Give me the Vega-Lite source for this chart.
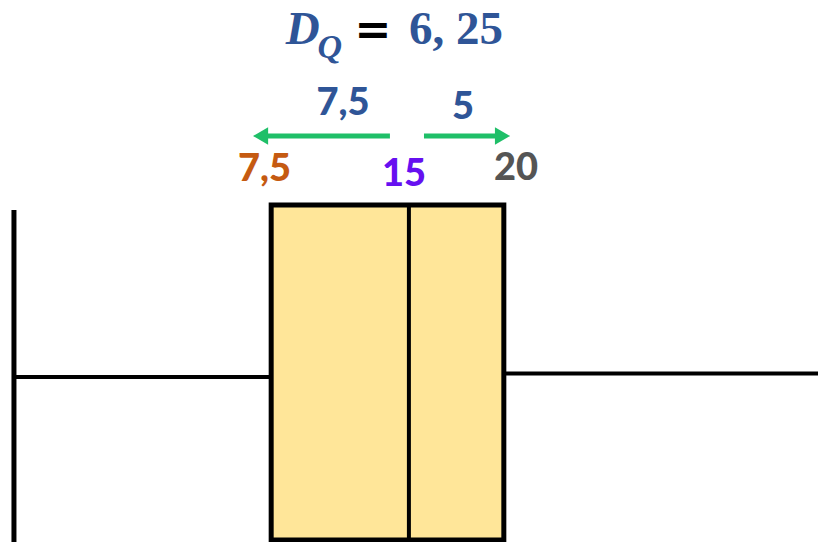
{
  "$schema": "https://vega.github.io/schema/vega-lite/v6.json",
  "width": 818,
  "height": 542,
  "autosize": {"type": "fit", "contains": "padding"},
  "padding": 0,
  "background": "white",
  "config": {"view": {"stroke": null}},
  "datasets": {
    "box": [{"q1": 7.5, "q3": 20, "lo": -1, "hi": 1}],
    "segs": [
      {"part": "whiskerL", "x": -6.32, "x2": 7.5, "y": -0.027, "y2": -0.027},
      {"part": "whiskerR", "x": 20, "x2": 40, "y": -0.006, "y2": -0.006},
      {"part": "cap", "x": -6.32, "x2": -6.32, "y": 0.97, "y2": -1.1},
      {"part": "median", "x": 14.9, "x2": 14.9, "y": -1, "y2": 1},
      {"part": "arrow", "x": 13.88, "x2": 7.3, "y": 1.412, "y2": 1.412},
      {"part": "arrow", "x": 15.71, "x2": 19.6, "y": 1.412, "y2": 1.412}
    ],
    "heads": [
      {"dir": "left", "x": 6.93, "y": 1.412},
      {"dir": "right", "x": 19.93, "y": 1.412}
    ],
    "labels": [
      {"role": "q1", "label": "7,5", "x": 7.14, "y": 1.143},
      {"role": "median", "label": "15", "x": 14.64, "y": 1.113},
      {"role": "q3", "label": "20", "x": 20.65, "y": 1.149},
      {"role": "diff", "label": "7,5", "x": 11.36, "y": 1.537},
      {"role": "diff", "label": "5", "x": 17.81, "y": 1.513}
    ],
    "title": [
      {"part": "D", "label": "D", "x": 9.2, "y": 1.961},
      {"part": "Q", "label": "Q", "x": 10.65, "y": 1.88},
      {"part": "eq", "label": "=", "x": 12.97, "y": 2.04},
      {"part": "val", "label": "6, 25", "x": 17.43, "y": 1.961}
    ]
  },
  "layer": [
    {
      "data": {"name": "box"},
      "mark": {"type": "rect", "fill": "#FFE699", "stroke": "#000000", "strokeWidth": 5, "clip": true},
      "encoding": {
        "x": {"field": "q1", "type": "quantitative", "scale": {"domain": [-7.07, 36.88], "nice": false, "zero": false}, "axis": null},
        "x2": {"field": "q3"},
        "y": {"field": "lo", "type": "quantitative", "scale": {"domain": [-1.012, 2.224], "nice": false, "zero": false}, "axis": null},
        "y2": {"field": "hi"}
      }
    },
    {
      "data": {"name": "segs"},
      "transform": [{"filter": "datum.part === 'whiskerL' || datum.part === 'whiskerR'"}],
      "mark": {"type": "rule", "color": "#000000", "strokeWidth": 4, "clip": true},
      "encoding": {
        "x": {"field": "x", "type": "quantitative"},
        "x2": {"field": "x2"},
        "y": {"field": "y", "type": "quantitative"},
        "y2": {"field": "y2"}
      }
    },
    {
      "data": {"name": "segs"},
      "transform": [{"filter": "datum.part === 'cap'"}],
      "mark": {"type": "rule", "color": "#000000", "strokeWidth": 5, "clip": true},
      "encoding": {
        "x": {"field": "x", "type": "quantitative"},
        "x2": {"field": "x2"},
        "y": {"field": "y", "type": "quantitative"},
        "y2": {"field": "y2"}
      }
    },
    {
      "data": {"name": "segs"},
      "transform": [{"filter": "datum.part === 'median'"}],
      "mark": {"type": "rule", "color": "#000000", "strokeWidth": 4, "clip": true},
      "encoding": {
        "x": {"field": "x", "type": "quantitative"},
        "x2": {"field": "x2"},
        "y": {"field": "y", "type": "quantitative"},
        "y2": {"field": "y2"}
      }
    },
    {
      "data": {"name": "segs"},
      "transform": [{"filter": "datum.part === 'arrow'"}],
      "mark": {"type": "rule", "color": "#1FBF68", "strokeWidth": 5},
      "encoding": {
        "x": {"field": "x", "type": "quantitative"},
        "x2": {"field": "x2"},
        "y": {"field": "y", "type": "quantitative"},
        "y2": {"field": "y2"}
      }
    },
    {
      "data": {"name": "heads"},
      "transform": [{"filter": "datum.dir === 'left'"}],
      "mark": {"type": "point", "filled": true, "color": "#1FBF68", "opacity": 1, "size": 230, "shape": "M-1,0L1,-1.15L1,1.15Z"},
      "encoding": {
        "x": {"field": "x", "type": "quantitative"},
        "y": {"field": "y", "type": "quantitative"}
      }
    },
    {
      "data": {"name": "heads"},
      "transform": [{"filter": "datum.dir === 'right'"}],
      "mark": {"type": "point", "filled": true, "color": "#1FBF68", "opacity": 1, "size": 230, "shape": "M1,0L-1,-1.15L-1,1.15Z"},
      "encoding": {
        "x": {"field": "x", "type": "quantitative"},
        "y": {"field": "y", "type": "quantitative"}
      }
    },
    {
      "data": {"name": "labels"},
      "mark": {"type": "text", "font": "Lato", "fontWeight": 900, "fontSize": 38, "align": "center", "baseline": "alphabetic"},
      "encoding": {
        "x": {"field": "x", "type": "quantitative"},
        "y": {"field": "y", "type": "quantitative"},
        "text": {"field": "label"},
        "color": {"field": "role", "type": "nominal", "legend": null,
          "scale": {"domain": ["q1", "median", "q3", "diff"], "range": ["#C55A11", "#6610F0", "#555555", "#2F5597"]}}
      }
    },
    {
      "data": {"name": "title"},
      "transform": [{"filter": "datum.part === 'D'"}],
      "mark": {"type": "text", "font": "Liberation Serif", "fontWeight": "bold", "fontStyle": "italic", "fontSize": 47, "color": "#2F5597", "align": "center", "baseline": "alphabetic"},
      "encoding": {
        "x": {"field": "x", "type": "quantitative"},
        "y": {"field": "y", "type": "quantitative"},
        "text": {"field": "label"}
      }
    },
    {
      "data": {"name": "title"},
      "transform": [{"filter": "datum.part === 'Q'"}],
      "mark": {"type": "text", "font": "Liberation Serif", "fontWeight": "bold", "fontStyle": "italic", "fontSize": 34, "color": "#2F5597", "align": "center", "baseline": "alphabetic"},
      "encoding": {
        "x": {"field": "x", "type": "quantitative"},
        "y": {"field": "y", "type": "quantitative"},
        "text": {"field": "label"}
      }
    },
    {
      "data": {"name": "title"},
      "transform": [{"filter": "datum.part === 'eq'"}],
      "mark": {"type": "text", "font": "DejaVu Sans", "fontWeight": "bold", "fontSize": 44, "color": "#000000", "align": "center", "baseline": "middle"},
      "encoding": {
        "x": {"field": "x", "type": "quantitative"},
        "y": {"field": "y", "type": "quantitative"},
        "text": {"field": "label"}
      }
    },
    {
      "data": {"name": "title"},
      "transform": [{"filter": "datum.part === 'val'"}],
      "mark": {"type": "text", "font": "Liberation Serif", "fontWeight": "bold", "fontSize": 47, "color": "#2F5597", "align": "center", "baseline": "alphabetic"},
      "encoding": {
        "x": {"field": "x", "type": "quantitative"},
        "y": {"field": "y", "type": "quantitative"},
        "text": {"field": "label"}
      }
    }
  ]
}
